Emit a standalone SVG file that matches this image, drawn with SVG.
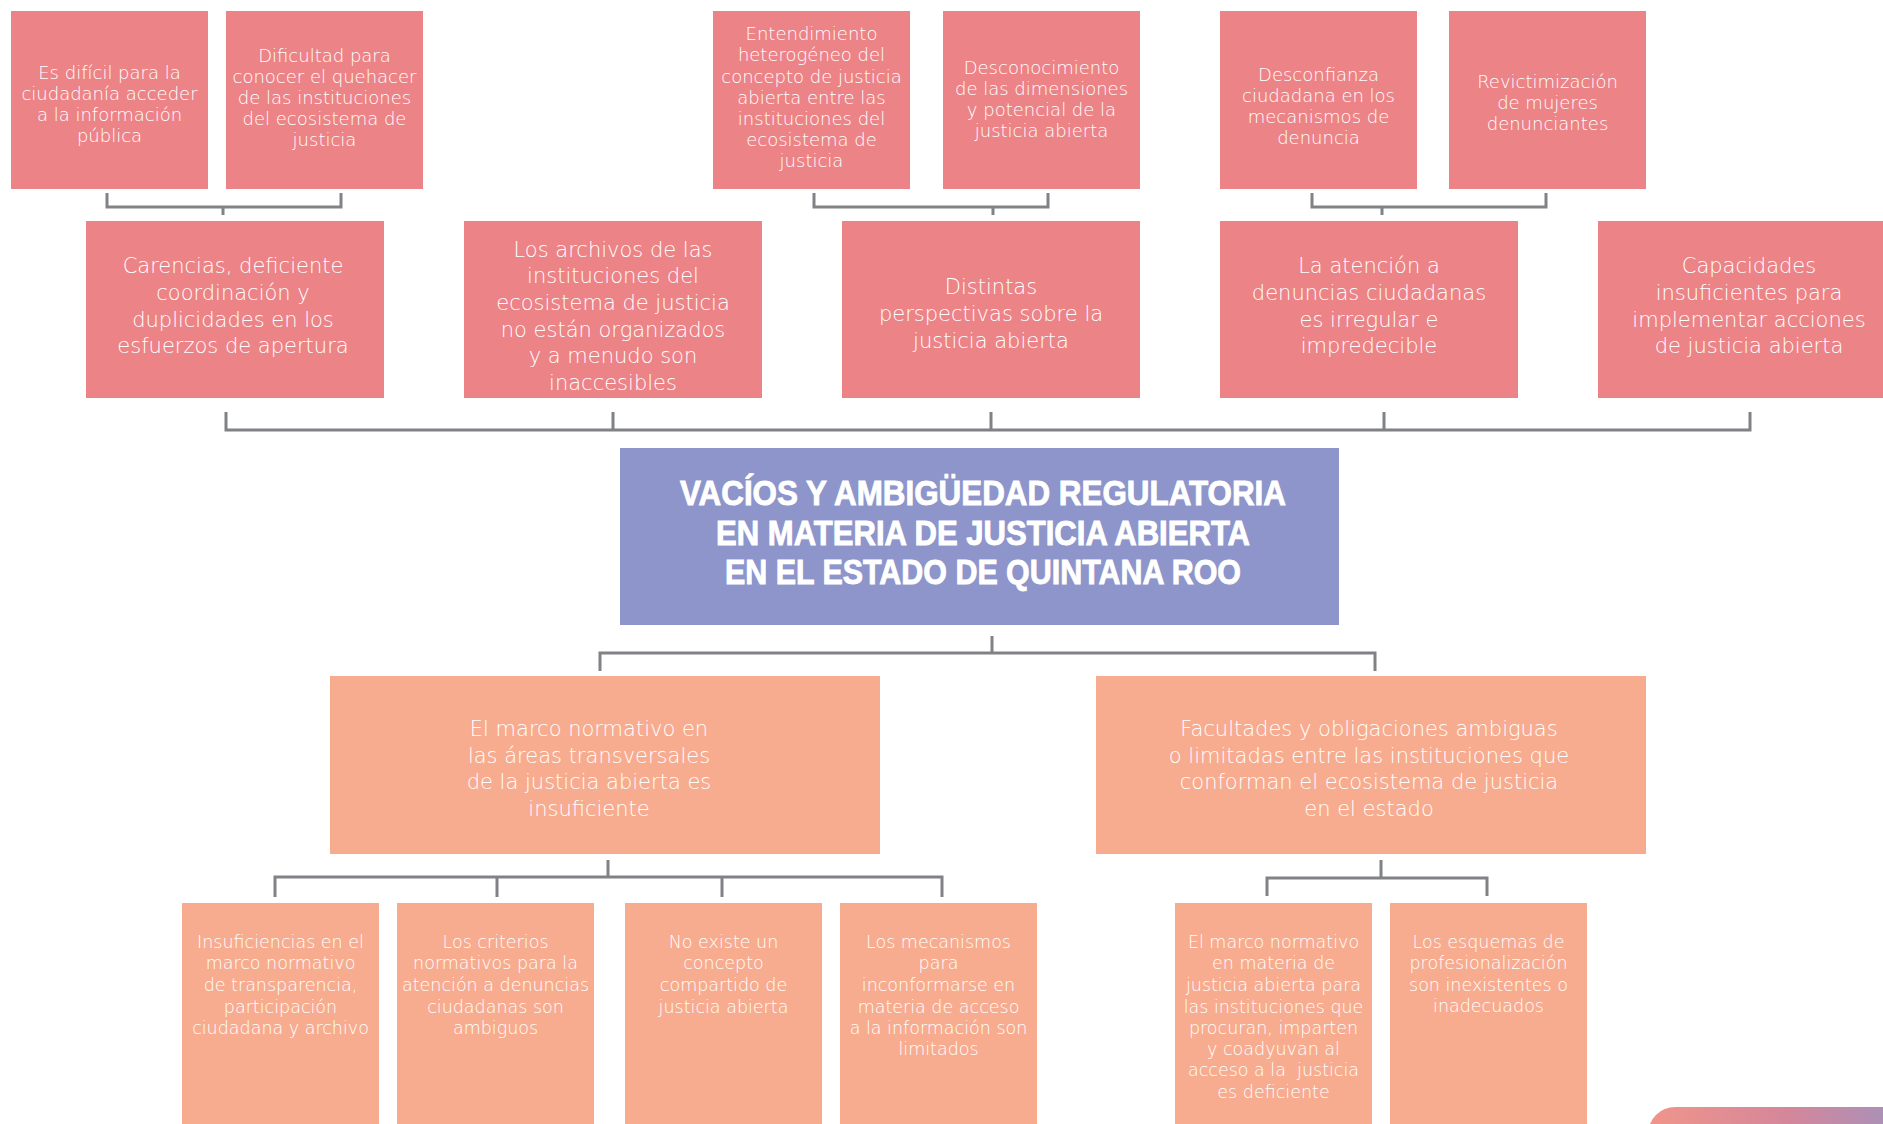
<svg xmlns="http://www.w3.org/2000/svg" width="1883" height="1124" viewBox="0 0 1883 1124">
<defs>
<style>
.pk{fill:#EC8387}
.sm{fill:#F7AC8F}
.tt{fill:#8D95CA}
.t{font-family:"DejaVu Sans","Liberation Sans",sans-serif;font-weight:200;fill:#FFFFFF;text-anchor:middle}
.s18{font-size:18px}
.s17{font-size:17.5px}
.s21{font-size:21px}
.ttl{font-family:"Liberation Sans",Arial,sans-serif;font-weight:700;font-size:35px;fill:#FFFFFF;stroke:#FFFFFF;stroke-width:0.9;text-anchor:middle}
.cn{fill:none;stroke:#808285;stroke-width:3}
</style>
<linearGradient id="lg" x1="0" y1="0" x2="1" y2="0">
<stop offset="0" stop-color="#F0958A"/>
<stop offset="0.5" stop-color="#D4869A"/>
<stop offset="1" stop-color="#9A95C4"/>
</linearGradient>
</defs>
<rect width="1883" height="1124" fill="#FFFFFF"/>

<g id="connectors">
<path class="cn" d="M107 193V207H341V193M223 207V215"/>
<path class="cn" d="M814 193V207H1048V193M993 207V215"/>
<path class="cn" d="M1312 193V207H1546V193M1382 207V215"/>
<path class="cn" d="M226 412V430H1750V412M613 412V430M991 412V430M1384 412V430"/>
<path class="cn" d="M992 636V653M600 671V653H1375V671"/>
<path class="cn" d="M608 860V877M275 897V877H942V897M497 877V897M722 877V897"/>
<path class="cn" d="M1381 860V878M1267 896V878H1487V896"/>
</g>

<g id="n1">
<rect class="pk" x="11" y="11" width="197" height="178"/>
<text class="t s18" x="109.5"><tspan x="109.5" y="79">Es difícil para la</tspan><tspan x="109.5" y="100">ciudadanía acceder</tspan><tspan x="109.5" y="121">a la información</tspan><tspan x="109.5" y="142">pública</tspan></text>
</g>
<g id="n2">
<rect class="pk" x="226" y="11" width="197" height="178"/>
<text class="t s18"><tspan x="324.5" y="62">Dificultad para</tspan><tspan x="324.5" y="83">conocer el quehacer</tspan><tspan x="324.5" y="104">de las instituciones</tspan><tspan x="324.5" y="125">del ecosistema de</tspan><tspan x="324.5" y="146">justicia</tspan></text>
</g>
<g id="n3">
<rect class="pk" x="713" y="11" width="197" height="178"/>
<text class="t s18"><tspan x="811.5" y="40">Entendimiento</tspan><tspan x="811.5" y="61">heterogéneo del</tspan><tspan x="811.5" y="83">concepto de justicia</tspan><tspan x="811.5" y="104">abierta entre las</tspan><tspan x="811.5" y="125">instituciones del</tspan><tspan x="811.5" y="146">ecosistema de</tspan><tspan x="811.5" y="167">justicia</tspan></text>
</g>
<g id="n4">
<rect class="pk" x="943" y="11" width="197" height="178"/>
<text class="t s18"><tspan x="1041.5" y="74">Desconocimiento</tspan><tspan x="1041.5" y="95">de las dimensiones</tspan><tspan x="1041.5" y="116">y potencial de la</tspan><tspan x="1041.5" y="137">justicia abierta</tspan></text>
</g>
<g id="n5">
<rect class="pk" x="1220" y="11" width="197" height="178"/>
<text class="t s18"><tspan x="1318.5" y="81">Desconfianza</tspan><tspan x="1318.5" y="102">ciudadana en los</tspan><tspan x="1318.5" y="123">mecanismos de</tspan><tspan x="1318.5" y="144">denuncia</tspan></text>
</g>
<g id="n6">
<rect class="pk" x="1449" y="11" width="197" height="178"/>
<text class="t s18"><tspan x="1547.5" y="88">Revictimización</tspan><tspan x="1547.5" y="109">de mujeres</tspan><tspan x="1547.5" y="130">denunciantes</tspan></text>
</g>

<g id="n7">
<rect class="pk" x="86" y="221" width="298" height="177"/>
<text class="t s21"><tspan x="233" y="272.5">Carencias, deficiente</tspan><tspan x="233" y="299.5">coordinación y</tspan><tspan x="233" y="326.5">duplicidades en los</tspan><tspan x="233" y="353">esfuerzos de apertura</tspan></text>
</g>
<g id="n8">
<rect class="pk" x="464" y="221" width="298" height="177"/>
<text class="t s21"><tspan x="613" y="256.5">Los archivos de las</tspan><tspan x="613" y="283">instituciones del</tspan><tspan x="613" y="310">ecosistema de justicia</tspan><tspan x="613" y="336.5">no están organizados</tspan><tspan x="613" y="363">y a menudo son</tspan><tspan x="613" y="390">inaccesibles</tspan></text>
</g>
<g id="n9">
<rect class="pk" x="842" y="221" width="298" height="177"/>
<text class="t s21"><tspan x="991" y="294">Distintas</tspan><tspan x="991" y="321">perspectivas sobre la</tspan><tspan x="991" y="347.5">justicia abierta</tspan></text>
</g>
<g id="n10">
<rect class="pk" x="1220" y="221" width="298" height="177"/>
<text class="t s21"><tspan x="1369" y="272.5">La atención a</tspan><tspan x="1369" y="299.5">denuncias ciudadanas</tspan><tspan x="1369" y="326.5">es irregular e</tspan><tspan x="1369" y="353">impredecible</tspan></text>
</g>
<g id="n11">
<rect class="pk" x="1598" y="221" width="298" height="177"/>
<text class="t s21"><tspan x="1749" y="272.5">Capacidades</tspan><tspan x="1749" y="299.5">insuficientes para</tspan><tspan x="1749" y="326.5">implementar acciones</tspan><tspan x="1749" y="353">de justicia abierta</tspan></text>
</g>

<g id="n12">
<rect class="tt" x="620" y="448" width="719" height="177"/>
<text class="ttl"><tspan x="983" y="505" textLength="606" lengthAdjust="spacingAndGlyphs">VACÍOS Y AMBIGÜEDAD REGULATORIA</tspan><tspan x="983" y="544.5" textLength="534" lengthAdjust="spacingAndGlyphs">EN MATERIA DE JUSTICIA ABIERTA</tspan><tspan x="983" y="584" textLength="516" lengthAdjust="spacingAndGlyphs">EN EL ESTADO DE QUINTANA ROO</tspan></text>
</g>

<g id="n13">
<rect class="sm" x="330" y="676" width="550" height="178"/>
<text class="t s21"><tspan x="589" y="736">El marco normativo en</tspan><tspan x="589" y="762.5">las áreas transversales</tspan><tspan x="589" y="789">de la justicia abierta es</tspan><tspan x="589" y="816">insuficiente</tspan></text>
</g>
<g id="n14">
<rect class="sm" x="1096" y="676" width="550" height="178"/>
<text class="t s21"><tspan x="1369" y="736">Facultades y obligaciones ambiguas</tspan><tspan x="1369" y="762.5">o limitadas entre las instituciones que</tspan><tspan x="1369" y="789">conforman el ecosistema de justicia</tspan><tspan x="1369" y="816">en el estado</tspan></text>
</g>

<g id="n15">
<rect class="sm" x="182" y="903" width="197" height="230"/>
<text class="t s17"><tspan x="280.5" y="948">Insuficiencias en el</tspan><tspan x="280.5" y="969">marco normativo</tspan><tspan x="280.5" y="991">de transparencia,</tspan><tspan x="280.5" y="1013">participación</tspan><tspan x="280.5" y="1034">ciudadana y archivo</tspan></text>
</g>
<g id="n16">
<rect class="sm" x="397" y="903" width="197" height="230"/>
<text class="t s17"><tspan x="495.5" y="948">Los criterios</tspan><tspan x="495.5" y="969">normativos para la</tspan><tspan x="495.5" y="991">atención a denuncias</tspan><tspan x="495.5" y="1013">ciudadanas son</tspan><tspan x="495.5" y="1034">ambiguos</tspan></text>
</g>
<g id="n17">
<rect class="sm" x="625" y="903" width="197" height="230"/>
<text class="t s17"><tspan x="723.5" y="948">No existe un</tspan><tspan x="723.5" y="969">concepto</tspan><tspan x="723.5" y="991">compartido de</tspan><tspan x="723.5" y="1013">justicia abierta</tspan></text>
</g>
<g id="n18">
<rect class="sm" x="840" y="903" width="197" height="230"/>
<text class="t s17"><tspan x="938.5" y="948">Los mecanismos</tspan><tspan x="938.5" y="969">para</tspan><tspan x="938.5" y="991">inconformarse en</tspan><tspan x="938.5" y="1013">materia de acceso</tspan><tspan x="938.5" y="1034">a la información son</tspan><tspan x="938.5" y="1055">limitados</tspan></text>
</g>
<g id="n19">
<rect class="sm" x="1175" y="903" width="197" height="230"/>
<text class="t s17" xml:space="preserve"><tspan x="1273.5" y="948">El marco normativo</tspan><tspan x="1273.5" y="969">en materia de</tspan><tspan x="1273.5" y="991">justicia abierta para</tspan><tspan x="1273.5" y="1013">las instituciones que</tspan><tspan x="1273.5" y="1034">procuran, imparten</tspan><tspan x="1273.5" y="1055">y coadyuvan al</tspan><tspan x="1273.5" y="1076">acceso a la  justicia</tspan><tspan x="1273.5" y="1098">es deficiente</tspan></text>
</g>
<g id="n20">
<rect class="sm" x="1390" y="903" width="197" height="230"/>
<text class="t s17"><tspan x="1488.5" y="948">Los esquemas de</tspan><tspan x="1488.5" y="969">profesionalización</tspan><tspan x="1488.5" y="991">son inexistentes o</tspan><tspan x="1488.5" y="1012">inadecuados</tspan></text>
</g>

<g id="logo">
<rect x="1648" y="1107" width="280" height="70" rx="27" fill="url(#lg)"/>
</g>
</svg>
